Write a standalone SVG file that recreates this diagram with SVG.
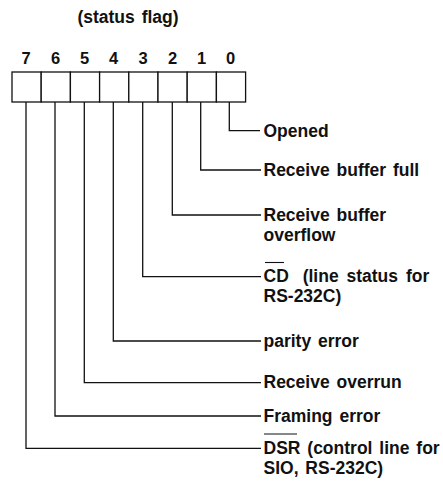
<svg xmlns="http://www.w3.org/2000/svg" width="443" height="497" viewBox="0 0 443 497">
  <style>
    .lbl { font-family: "Liberation Sans", Arial, Helvetica, sans-serif; font-size: 17.5px; font-weight: bold; fill: #111; word-spacing: 2px; }
    .bit { font-family: "Liberation Sans", Arial, Helvetica, sans-serif; font-size: 16.5px; font-weight: bold; fill: #111; text-anchor: middle; }
    .cell { fill: #fff; stroke: #111; stroke-width: 1.3; }
    .wire { fill: none; stroke: #111; stroke-width: 1.3; }
    .bar { stroke: #111; stroke-width: 1.1; }
  </style>
  <rect width="443" height="497" fill="#fff"/>

  <text id="title" class="lbl" x="128" y="23" text-anchor="middle">(status flag)</text>

  <!-- the 8-bit register -->
  <g id="register">
    <rect class="cell" x="12" y="72" width="29.2" height="30"/>
    <rect class="cell" x="41.2" y="72" width="29.2" height="30"/>
    <rect class="cell" x="70.4" y="72" width="29.2" height="30"/>
    <rect class="cell" x="99.6" y="72" width="29.2" height="30"/>
    <rect class="cell" x="128.8" y="72" width="29.2" height="30"/>
    <rect class="cell" x="158" y="72" width="29.2" height="30"/>
    <rect class="cell" x="187.2" y="72" width="29.2" height="30"/>
    <rect class="cell" x="216.4" y="72" width="29.2" height="30"/>
    <text class="bit" x="26" y="64">7</text>
    <text class="bit" x="55.5" y="64">6</text>
    <text class="bit" x="84.5" y="64">5</text>
    <text class="bit" x="113.5" y="64">4</text>
    <text class="bit" x="143" y="64">3</text>
    <text class="bit" x="172.5" y="64">2</text>
    <text class="bit" x="201.5" y="64">1</text>
    <text class="bit" x="230.5" y="64">0</text>
  </g>

  <!-- leader lines from each bit to its description -->
  <g id="connectors">
    <polyline class="wire" points="229.3,102 229.3,130.7 260,130.7"/>
    <polyline class="wire" points="200.7,102 200.7,170 261,170"/>
    <polyline class="wire" points="172.3,102 172.3,215 261,215"/>
    <polyline class="wire" points="142.7,102 142.7,276.7 261,276.7"/>
    <polyline class="wire" points="113.3,102 113.3,341 261,341"/>
    <polyline class="wire" points="84.3,102 84.3,382.7 261,382.7"/>
    <polyline class="wire" points="55,102 55,416 261,416"/>
    <polyline class="wire" points="26,102 26,448.3 261,448.3"/>
  </g>

  <g id="bit0"><text class="lbl" x="263.5" y="136.5">Opened</text></g>
  <g id="bit1"><text class="lbl" x="263.5" y="176">Receive buffer full</text></g>
  <g id="bit2">
    <text class="lbl" x="263.5" y="221">Receive buffer</text>
    <text class="lbl" x="263.5" y="241">overflow</text>
  </g>
  <g id="bit3">
    <line class="bar" x1="265" y1="262.5" x2="284" y2="262.5"/>
    <text class="lbl" x="263.5" y="282" style="word-spacing:3px">CD <tspan dx="6">(line status for</tspan></text>
    <text class="lbl" x="263.5" y="301.5">RS-232C)</text>
  </g>
  <g id="bit4"><text class="lbl" x="263.5" y="346.5">parity error</text></g>
  <g id="bit5"><text class="lbl" x="263.5" y="388">Receive overrun</text></g>
  <g id="bit6"><text class="lbl" x="263.5" y="421.5">Framing error</text></g>
  <g id="bit7">
    <line class="bar" x1="264" y1="434" x2="297" y2="434"/>
    <text class="lbl" x="263.5" y="454">DSR (control line for</text>
    <text class="lbl" x="263.5" y="473.5">SIO, RS-232C)</text>
  </g>
</svg>
